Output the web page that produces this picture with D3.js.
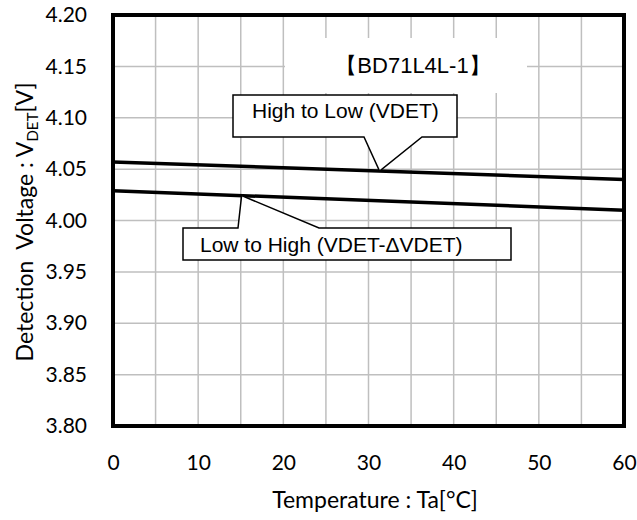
<!DOCTYPE html>
<html>
<head>
<meta charset="utf-8">
<script src="https://cdn.jsdelivr.net/npm/d3@7"></script>
<style>
  body { margin: 0; background: #fff; }
  svg { display: block; }
</style>
</head>
<body>
<div id="chart-area"></div>
<script>
// data
var temps = [0, 60];
var highToLow = [4.057, 4.040];
var lowToHigh = [4.029, 4.010];
var xTicks = [0, 10, 20, 30, 40, 50, 60];
var yTicks = [3.80, 3.85, 3.90, 3.95, 4.00, 4.05, 4.10, 4.15, 4.20];
var xMinor = [5, 15, 25, 35, 45, 55];

var margin = { left: 113, right: 13, top: 15, bottom: 94 };
var width = 637 - margin.left - margin.right,
    height = 520 - margin.top - margin.bottom;

var svg = d3.select("#chart-area")
    .append("svg")
        .attr("width", 637)
        .attr("height", 520);
var g = svg.append("g")
    .attr("transform", "translate(" + margin.left + "," + margin.top + ")");

// Scales
var x = d3.scaleLinear().domain([0, 60]).range([0, width]);
var y = d3.scaleLinear().domain([3.80, 4.20]).range([height, 0]);

var tickFont = "Lato, 'Open Sans', sans-serif";
var noteFont = "'Liberation Sans', Arial, sans-serif";
var gridColor = "#bfbfbf";

// Grid
g.selectAll(".vgrid")
    .data(xTicks.concat(xMinor))
    .enter().append("line")
        .attr("x1", function(d){ return x(d); })
        .attr("x2", function(d){ return x(d); })
        .attr("y1", 0).attr("y2", height)
        .attr("stroke", gridColor).attr("stroke-width", 1.5);
g.selectAll(".hgrid")
    .data(yTicks)
    .enter().append("line")
        .attr("y1", function(d){ return y(d); })
        .attr("y2", function(d){ return y(d); })
        .attr("x1", 0).attr("x2", width)
        .attr("stroke", gridColor).attr("stroke-width", 1.5);

// Axes (labels only, frame drawn later)
var xAxisCall = d3.axisBottom(x).tickValues(xTicks).tickSize(0)
    .tickFormat(d3.format("d"));
var xAxis = g.append("g")
    .attr("transform", "translate(0," + height + ")")
    .call(xAxisCall);
xAxis.selectAll("text").attr("y", 44).attr("dy", null);

var yAxisCall = d3.axisLeft(y).tickValues(yTicks).tickSize(0).tickPadding(26)
    .tickFormat(d3.format(".2f"));
var yAxis = g.append("g").call(yAxisCall);
[xAxis, yAxis].forEach(function(a) {
    a.select(".domain").remove();
    a.selectAll("text")
        .attr("font-family", tickFont)
        .attr("font-size", "21px")
        .attr("fill", "#000");
});

// Device label with white background
g.append("rect")
    .attr("x", 172).attr("y", 23)
    .attr("width", 242).attr("height", 55)
    .attr("fill", "#fff");
g.append("text")
    .attr("x", 300).attr("y", 58)
    .attr("text-anchor", "middle")
    .attr("font-family", noteFont)
    .attr("font-size", "22px")
    .text("【BD71L4L-1】");

// Lines
var line = d3.line()
    .x(function(d){ return x(d[0]); })
    .y(function(d){ return y(d[1]); });
[highToLow, lowToHigh].forEach(function(series) {
    g.append("path")
        .datum(d3.zip(temps, series))
        .attr("d", line)
        .attr("fill", "none")
        .attr("stroke", "#000")
        .attr("stroke-width", 3.5);
});

// Callout boxes
function valueAt(series, t) {
    return series[0] + (series[1] - series[0]) * (t - temps[0]) / (temps[1] - temps[0]);
}
function callout(box, tip, baseA, baseB, label, onTop) {
    var px = x(tip), py = y(valueAt(box.series, tip));
    var p = d3.path();
    if (onTop) {
        p.moveTo(box.x, box.y);
        p.lineTo(baseA, box.y);
        p.lineTo(px, py);
        p.lineTo(baseB, box.y);
        p.lineTo(box.x + box.w, box.y);
        p.lineTo(box.x + box.w, box.y + box.h);
        p.lineTo(box.x, box.y + box.h);
        p.closePath();
    } else {
        p.moveTo(box.x, box.y);
        p.lineTo(box.x + box.w, box.y);
        p.lineTo(box.x + box.w, box.y + box.h);
        p.lineTo(baseB, box.y + box.h);
        p.lineTo(px, py);
        p.lineTo(baseA, box.y + box.h);
        p.lineTo(box.x, box.y + box.h);
        p.closePath();
    }
    g.append("path")
        .attr("d", p.toString())
        .attr("fill", "#fff")
        .attr("stroke", "#000")
        .attr("stroke-width", 1.5);
    g.append("text")
        .attr("x", box.x + box.pad)
        .attr("y", box.y + box.base)
        .attr("font-family", noteFont)
        .attr("font-size", "21px")
        .text(label);
}
callout({ x: 120, y: 80, w: 224, h: 42, pad: 19, base: 23, series: highToLow }, 31.3, 251, 309,
    "High to Low (VDET)", false);
callout({ x: 70, y: 213, w: 328, h: 32, pad: 17, base: 24, series: lowToHigh }, 15.1, 125, 206,
    "Low to High (VDET-\u0394VDET)", true);

// Frame
g.append("rect")
    .attr("x", 0).attr("y", 0)
    .attr("width", width).attr("height", height)
    .attr("fill", "none")
    .attr("stroke", "#000")
    .attr("stroke-width", 4);

// Axis titles
svg.append("text")
    .attr("x", 375)
    .attr("y", 508)
    .attr("text-anchor", "middle")
    .attr("font-family", tickFont)
    .attr("font-size", "23px")
    .text("Temperature : Ta[°C]");

var yTitle = svg.append("text")
    .attr("transform", "translate(33,222) rotate(-90)")
    .attr("text-anchor", "middle")
    .attr("font-family", tickFont)
    .attr("font-size", "23px")
    .style("white-space", "pre");
yTitle.append("tspan").text("Detection  Voltage : V");
yTitle.append("tspan").attr("font-size", "15px").attr("dy", 5).text("DET");
yTitle.append("tspan").attr("dy", -5).text("[V]");
</script>
</body>
</html>
